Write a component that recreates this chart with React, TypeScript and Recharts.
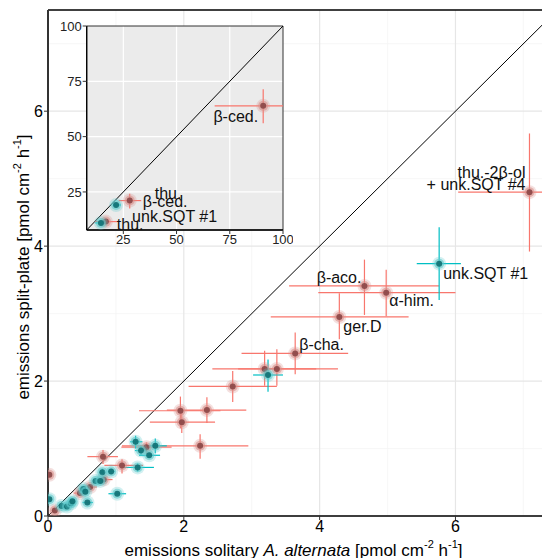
import React from "react";
import {
  ScatterChart,
  Scatter,
  XAxis,
  YAxis,
  CartesianGrid,
  ErrorBar,
  ReferenceLine,
  ReferenceArea,
  Label,
} from "recharts";

const FONT = "'Liberation Sans', Arial, Helvetica, sans-serif";
const RED = "#F8766D";
const TEAL = "#00BFC4";

// each point: [x, y, xLow, xHigh, yLow, yHigh]
const mainRed = [
  [7.09, 4.8, 6.04, 8.14, 3.92, 5.67],
  [4.66, 3.41, 3.55, 5.76, 2.98, 3.8],
  [4.98, 3.31, 3.98, 6.0, 2.96, 3.65],
  [4.29, 2.95, 3.28, 5.31, 2.62, 3.3],
  [3.64, 2.41, 2.85, 4.42, 2.1, 2.72],
  [3.19, 2.18, 2.42, 3.95, 1.93, 2.45],
  [3.37, 2.18, 2.8, 4.27, 1.93, 2.47],
  [2.72, 1.92, 2.07, 3.37, 1.69, 2.15],
  [2.34, 1.57, 1.75, 2.92, 1.38, 1.76],
  [1.95, 1.56, 1.34, 2.54, 1.3, 1.77],
  [1.97, 1.39, 1.5, 2.46, 1.23, 1.55],
  [2.24, 1.04, 1.09, 2.95, 0.85, 1.21],
  [1.45, 1.02, 1.08, 1.82, 0.92, 1.09],
  [0.81, 0.88, 0.58, 1.03, 0.77, 0.98],
  [1.09, 0.75, 0.83, 1.4, 0.63, 0.84],
  [0.82, 0.54, 0.7, 0.95, 0.5, 0.58],
  [0.62, 0.43, 0.52, 0.72, 0.4, 0.46],
  [0.47, 0.34, 0.38, 0.57, 0.31, 0.37],
  [0.1, 0.08, 0.06, 0.14, 0.06, 0.1],
  [0.02, 0.61, 0.0, 0.04, 0.58, 0.64],
];

const mainTeal = [
  [5.76, 3.74, 5.43, 6.08, 3.2, 4.28],
  [3.24, 2.09, 3.02, 3.46, 1.84, 2.32],
  [1.29, 1.1, 1.21, 1.39, 1.0, 1.19],
  [1.58, 1.04, 1.45, 1.75, 0.93, 1.15],
  [1.37, 0.97, 1.28, 1.45, 0.9, 1.04],
  [1.49, 0.9, 1.34, 1.65, 0.86, 0.94],
  [1.32, 0.72, 1.12, 1.56, 0.66, 0.78],
  [0.8, 0.65, 0.76, 0.84, 0.6, 0.7],
  [0.93, 0.66, 0.88, 0.98, 0.62, 0.7],
  [0.7, 0.52, 0.66, 0.74, 0.49, 0.55],
  [0.77, 0.52, 0.73, 0.81, 0.49, 0.55],
  [0.52, 0.4, 0.48, 0.56, 0.37, 0.44],
  [0.55, 0.36, 0.51, 0.59, 0.33, 0.39],
  [1.02, 0.33, 0.89, 1.15, 0.31, 0.35],
  [0.58, 0.2, 0.51, 0.66, 0.18, 0.22],
  [0.2, 0.15, 0.17, 0.23, 0.13, 0.17],
  [0.28, 0.14, 0.25, 0.31, 0.12, 0.16],
  [0.34, 0.19, 0.31, 0.37, 0.17, 0.21],
  [0.36, 0.22, 0.33, 0.39, 0.2, 0.24],
  [0.02, 0.25, 0.0, 0.04, 0.23, 0.27],
];

const insetRed = [
  [16.8, 11.6, 11.8, 22.3, 10.8, 12.4],
  [28.0, 21.1, 22.8, 33.4, 17.5, 24.2],
  [90.7, 63.9, 67.9, 100, 56.1, 71.4],
];

const insetTeal = [
  [14.5, 11.0, 11.8, 15.5, 10.3, 11.7],
  [21.6, 19.1, 20.0, 23.9, 18.3, 19.9],
];

const mainLabels = [
  { id: "thuOl", text: "thu.-2β-ol", x: 7.09, y: 4.8 },
  { id: "sqt4", text: "+ unk.SQT #4", x: 7.09, y: 4.8 },
  { id: "sqt1", text: "unk.SQT #1", x: 5.76, y: 3.74 },
  { id: "aco", text: "β-aco.", x: 4.66, y: 3.41 },
  { id: "him", text: "α-him.", x: 4.98, y: 3.31 },
  { id: "gerD", text: "ger.D", x: 4.29, y: 2.95 },
  { id: "cha", text: "β-cha.", x: 3.64, y: 2.41 },
];

const insetLabels = [
  { id: "ced1", text: "β-ced.", x: 90.7, y: 63.9 },
  { id: "thu1", text: "thu.", x: 28.0, y: 21.1 },
  { id: "ced2", text: "β-ced.", x: 28.0, y: 21.1 },
  { id: "sqt1i", text: "unk.SQT #1", x: 21.6, y: 19.1 },
  { id: "thu2", text: "thu.", x: 16.8, y: 11.6 },
];

// pixel offsets of each label from its point
const labelPos: Record<string, { dx: number; dy: number; anchor: string }> = {
  thuOl: { dx: -4, dy: -20, anchor: "end" },
  sqt4: { dx: -4, dy: -8, anchor: "end" },
  sqt1: { dx: 4, dy: 10, anchor: "start" },
  aco: { dx: -3, dy: -8, anchor: "end" },
  him: { dx: 3, dy: 8, anchor: "start" },
  gerD: { dx: 4, dy: 10, anchor: "start" },
  cha: { dx: 4, dy: -9, anchor: "start" },
  ced1: { dx: -5, dy: 11, anchor: "end" },
  thu1: { dx: 25, dy: -7, anchor: "start" },
  ced2: { dx: 13, dy: 1, anchor: "start" },
  sqt1i: { dx: 16, dy: 12, anchor: "start" },
  thu2: { dx: 11, dy: 3, anchor: "start" },
};

const toRows = (pts: number[][]) =>
  pts.map(([x, y, xl, xh, yl, yh]) => ({ x, y, ex: [x - xl, xh - x], ey: [y - yl, yh - y] }));

const makeDot = (core: string, halo: string) => (props: any) => {
  const { cx, cy } = props;
  if (cx == null || cy == null) return <g />;
  return (
    <g>
      <circle cx={cx} cy={cy} r={7} fill={halo} opacity={0.28} />
      <circle cx={cx} cy={cy} r={5} fill={halo} opacity={0.6} />
      <circle cx={cx} cy={cy} r={3} fill={core} opacity={0.9} />
    </g>
  );
};

const redDot = makeDot("#8a4646", "#d98f8b");
const tealDot = makeDot("#0f6f72", "#5cc9cc");

const textLabel = (props: any) => {
  const { cx, cy, payload } = props;
  const p = labelPos[payload.id];
  return (
    <text
      x={cx + p.dx}
      y={cy + p.dy}
      textAnchor={p.anchor}
      dominantBaseline="central"
      fontSize={16}
      fontFamily={FONT}
      fill="#111"
    >
      {payload.text}
    </text>
  );
};

const XTitle = () => (
  <text x={285.5} y={542} textAnchor="middle" dominantBaseline="central" fontSize={17} fontFamily={FONT} fill="#000">
    emissions solitary <tspan fontStyle="italic">A. alternata</tspan> [pmol cm
    <tspan dy={-6} fontSize={11}>-2</tspan>
    <tspan dy={6}> h</tspan>
    <tspan dy={-6} fontSize={11}>-1</tspan>
    <tspan dy={6}>]</tspan>
  </text>
);

const YTitle = () => (
  <text
    x={15}
    y={259}
    transform="rotate(-90, 15, 259)"
    textAnchor="middle"
    dominantBaseline="central"
    fontSize={17}
    fontFamily={FONT}
    fill="#000"
  >
    emissions split-plate [pmol cm
    <tspan dy={-6} fontSize={11}>-2</tspan>
    <tspan dy={6}> h</tspan>
    <tspan dy={-6} fontSize={11}>-1</tspan>
    <tspan dy={6}>]</tspan>
  </text>
);

function Inset() {
  const tick = { fontSize: 13, fill: "#222", fontFamily: FONT };
  return (
    <ScatterChart width={245} height={237} margin={{ top: 8, right: 10, bottom: 0, left: 0 }}>
      <CartesianGrid
        fill="#ebebeb"
        stroke="#ffffff"
        strokeWidth={1.2}
        verticalValues={[25, 50, 75]}
        horizontalValues={[25, 50, 75]}
      />
      <XAxis
        type="number"
        dataKey="x"
        domain={[7.8, 100]}
        ticks={[25, 50, 75, 100]}
        allowDataOverflow
        height={25}
        tick={tick}
        tickSize={4}
        tickMargin={1}
        tickLine={{ stroke: "#333" }}
        axisLine={{ stroke: "#000", strokeWidth: 1.3 }}
      />
      <YAxis
        type="number"
        dataKey="y"
        domain={[7.8, 100]}
        ticks={[25, 50, 75, 100]}
        allowDataOverflow
        width={38.7}
        tick={tick}
        tickSize={4}
        tickMargin={1}
        tickLine={{ stroke: "#333" }}
        axisLine={{ stroke: "#000", strokeWidth: 1.3 }}
      />
      <ReferenceArea x1={7.8} x2={100} y1={7.8} y2={100} fill="none" stroke="#333" strokeWidth={1} />
      <ReferenceLine segment={[{ x: 7.8, y: 7.8 }, { x: 100, y: 100 }]} stroke="#000" strokeWidth={1} />
      <Scatter data={toRows(insetRed)} shape={redDot} isAnimationActive={false}>
        <ErrorBar dataKey="ex" direction="x" stroke={RED} strokeWidth={1.2} width={0} />
        <ErrorBar dataKey="ey" direction="y" stroke={RED} strokeWidth={1.2} width={0} />
      </Scatter>
      <Scatter data={toRows(insetTeal)} shape={tealDot} isAnimationActive={false}>
        <ErrorBar dataKey="ex" direction="x" stroke={TEAL} strokeWidth={1.2} width={0} />
        <ErrorBar dataKey="ey" direction="y" stroke={TEAL} strokeWidth={1.2} width={0} />
      </Scatter>
      <Scatter data={insetLabels} shape={textLabel} isAnimationActive={false} />
    </ScatterChart>
  );
}

export default function App() {
  const tick = { fontSize: 16, fill: "#000", fontFamily: FONT };
  return (
    <div style={{ position: "relative", width: 542, height: 550, overflow: "hidden", fontFamily: FONT }}>
      <ScatterChart width={550} height={550} margin={{ top: 2, right: 0, bottom: 0, left: 0 }}>
        <CartesianGrid
          stroke="#f3f3f3"
          strokeWidth={0.7}
          verticalValues={[1, 3, 5, 7]}
          horizontalValues={[1, 3, 5, 7]}
        />
        <CartesianGrid
          stroke="#e6e6e6"
          strokeWidth={1.2}
          verticalValues={[0, 2, 4, 6]}
          horizontalValues={[0, 2, 4, 6]}
        />
        <XAxis
          type="number"
          dataKey="x"
          domain={[0, 7.51]}
          ticks={[0, 2, 4, 6]}
          allowDataOverflow
          height={42}
          tick={tick}
          tickSize={4}
          tickMargin={1}
          tickLine={{ stroke: "#333" }}
          axisLine={{ stroke: "#000", strokeWidth: 1.6 }}
        >
          <Label content={XTitle} />
        </XAxis>
        <YAxis
          type="number"
          dataKey="y"
          domain={[0, 7.5]}
          ticks={[0, 2, 4, 6]}
          allowDataOverflow
          width={40}
          tick={tick}
          tickSize={4}
          tickMargin={1}
          tickLine={{ stroke: "#333" }}
          axisLine={{ stroke: "#333", strokeWidth: 2 }}
        >
          <Label content={YTitle} />
        </YAxis>
        <ReferenceLine y={7.5} stroke="#000" strokeWidth={1.5} />
        <ReferenceLine segment={[{ x: 0, y: 0 }, { x: 7.5, y: 7.5 }]} stroke="#000" strokeWidth={1} />
        <Scatter data={toRows(mainRed)} shape={redDot} isAnimationActive={false}>
          <ErrorBar dataKey="ex" direction="x" stroke={RED} strokeWidth={1.2} width={0} />
          <ErrorBar dataKey="ey" direction="y" stroke={RED} strokeWidth={1.2} width={0} />
        </Scatter>
        <Scatter data={toRows(mainTeal)} shape={tealDot} isAnimationActive={false}>
          <ErrorBar dataKey="ex" direction="x" stroke={TEAL} strokeWidth={1.2} width={0} />
          <ErrorBar dataKey="ey" direction="y" stroke={TEAL} strokeWidth={1.2} width={0} />
        </Scatter>
        <Scatter data={mainLabels} shape={textLabel} isAnimationActive={false} />
      </ScatterChart>
      <div style={{ position: "absolute", left: 40, top: 10 }}>
        <Inset />
      </div>
    </div>
  );
}
